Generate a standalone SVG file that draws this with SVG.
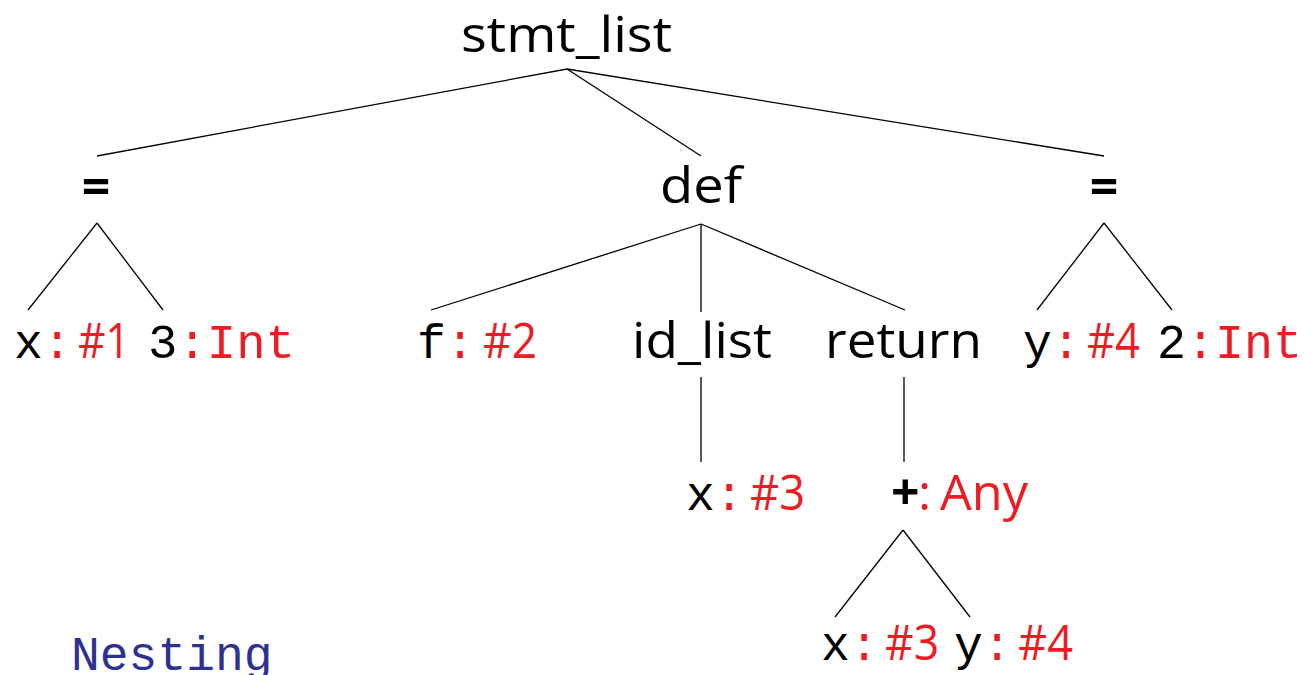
<svg xmlns="http://www.w3.org/2000/svg" width="1314" height="675" viewBox="0 0 1314 675">
<style>
.c{font-family:"Comic Sans MS","Open Sans","Noto Sans",sans-serif;font-size:50px;fill:#000}
.t{font-family:"Liberation Mono","DejaVu Sans Mono",monospace;font-size:48px;fill:#000}
.r{fill:#ed1c24}
.b{fill:#2e3192}
.eq{font-weight:bold}
#edges line{stroke:#000;stroke-width:1.3}
</style>
<rect width="1314" height="675" fill="#fff"/>
<g id="edges">
<line x1="567" y1="69" x2="97" y2="156"/>
<line x1="567" y1="69" x2="701" y2="156"/>
<line x1="567" y1="69" x2="1104" y2="156"/>
<line x1="97" y1="223" x2="28" y2="310"/>
<line x1="97" y1="223" x2="163" y2="310"/>
<line x1="701" y1="224" x2="431" y2="310"/>
<line x1="701" y1="224" x2="701" y2="312"/>
<line x1="701" y1="224" x2="905" y2="310"/>
<line x1="1104" y1="223" x2="1037" y2="310"/>
<line x1="1104" y1="223" x2="1172" y2="310"/>
<line x1="701" y1="377" x2="701" y2="462"/>
<line x1="904" y1="377" x2="904" y2="462"/>
<line x1="903" y1="530" x2="835" y2="617"/>
<line x1="903" y1="530" x2="970" y2="617"/>
</g>
<g id="n-stmt_list"><text class="c" x="461" y="52" textLength="211" lengthAdjust="spacingAndGlyphs">stmt_list</text></g>
<g id="n-eq1"><text class="c eq" x="96" y="204" text-anchor="middle">=</text></g>
<g id="n-def"><text class="c" x="660" y="203" textLength="82" lengthAdjust="spacingAndGlyphs">def</text></g>
<g id="n-eq2"><text class="c eq" x="1104" y="204" text-anchor="middle">=</text></g>
<g id="n-x1"><text class="t" x="14" y="358">x<tspan class="r">:</tspan></text><text class="c r" x="78" y="358" textLength="52" lengthAdjust="spacingAndGlyphs">#1</text></g>
<g id="n-3"><text class="t" x="148" y="358" textLength="147" lengthAdjust="spacingAndGlyphs">3<tspan class="r">:Int</tspan></text></g>
<g id="n-f"><text class="t" x="417" y="358">f<tspan class="r">:</tspan></text><text class="c r" x="483" y="358" textLength="54" lengthAdjust="spacingAndGlyphs">#2</text></g>
<g id="n-id_list"><text class="c" x="632" y="358" textLength="140" lengthAdjust="spacingAndGlyphs">id_list</text></g>
<g id="n-return"><text class="c" x="825" y="358" textLength="157" lengthAdjust="spacingAndGlyphs">return</text></g>
<g id="n-y1"><text class="t" x="1023" y="358">y<tspan class="r">:</tspan></text><text class="c r" x="1087" y="358" textLength="53" lengthAdjust="spacingAndGlyphs">#4</text></g>
<g id="n-2"><text class="t" x="1157" y="358" textLength="145" lengthAdjust="spacingAndGlyphs">2<tspan class="r">:Int</tspan></text></g>
<g id="n-x3"><text class="t" x="686" y="510">x<tspan class="r">:</tspan></text><text class="c r" x="750" y="510" textLength="55" lengthAdjust="spacingAndGlyphs">#3</text></g>
<g id="n-plus"><text class="c eq" x="891" y="510">+</text><text class="c r" x="918" y="510">:</text><text class="c r" x="940" y="510" textLength="88" lengthAdjust="spacingAndGlyphs">Any</text></g>
<g id="n-x4"><text class="t" x="821" y="660">x<tspan class="r">:</tspan></text><text class="c r" x="885" y="660" textLength="54" lengthAdjust="spacingAndGlyphs">#3</text></g>
<g id="n-y2"><text class="t" x="954" y="660">y<tspan class="r">:</tspan></text><text class="c r" x="1018" y="660" textLength="55" lengthAdjust="spacingAndGlyphs">#4</text></g>
<g id="caption"><text class="t b" x="71" y="670">Nesting</text></g>
</svg>
